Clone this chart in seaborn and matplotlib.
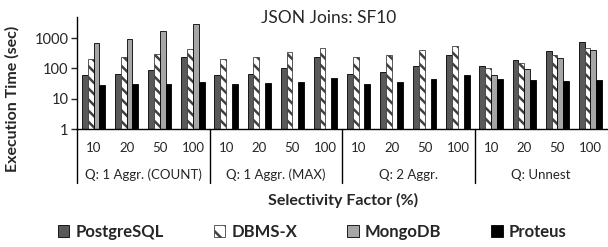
import numpy as np
import pandas as pd
import matplotlib
matplotlib.use("Agg")
import matplotlib.pyplot as plt
import matplotlib.transforms as mtransforms
from matplotlib.patches import Patch
import seaborn as sns

queries = ["Q: 1 Aggr. (COUNT)", "Q: 1 Aggr. (MAX)", "Q: 2 Aggr.", "Q: Unnest"]
selectivity = ["10", "20", "50", "100"]
systems = ["PostgreSQL", "DBMS-X", "MongoDB", "Proteus"]

postgres = [59, 67, 88, 230, 59, 68, 100, 240, 64, 76, 117, 288, 119, 187, 390, 730]
dbmsx = [204, 235, 310, 430, 208, 247, 352, 475, 230, 281, 410, 570, 105, 154, 280, 475]
mongodb = [690, 935, 1730, 2990, np.nan, np.nan, np.nan, np.nan,
           np.nan, np.nan, np.nan, np.nan, 60, 95, 224, 398]
proteus = [29, 30, 31.6, 35, 30, 32, 37, 47, 31.6, 35, 44, 59, 44.6, 41, 37.5, 41]

sns.set_style("white")
plt.rcParams['font.family'] = ['Lato', 'DejaVu Sans']
plt.rcParams['hatch.linewidth'] = 1.8
plt.rcParams['hatch.color'] = '#404040'

cats = [f"{q}|{s}" for q in queries for s in selectivity]
rows = []
for name, vals in zip(systems, [postgres, dbmsx, mongodb, proteus]):
    for c, v in zip(cats, vals):
        rows.append({"cat": c, "system": name, "time": v})
df = pd.DataFrame(rows)

W, H = 608, 247
fig = plt.figure(figsize=(W / 100, H / 100), dpi=100)
ax = fig.add_axes([77 / W, 1 - 129 / H, (607 - 77) / W, (129 - 17) / H])
ax.set_yscale("log")

colors = {"PostgreSQL": "#595959", "DBMS-X": "#ffffff", "MongoDB": "#a6a6a6", "Proteus": "#000000"}
sns.barplot(data=df, x="cat", y="time", hue="system", order=cats, hue_order=systems,
            palette=colors, width=0.7, edgecolor="black", linewidth=0.6,
            saturation=1, legend=False, ax=ax)

HATCH = "\\\\\\"
for bar_container, name in zip(ax.containers, systems):
    if name == "DBMS-X":
        for p in bar_container:
            p.set_hatch(HATCH)
            p.set_edgecolor("#404040")

ax.set_ylim(1, 5000)
ax.set_xlim(-0.5, len(cats) - 0.5)
ax.set_yticks([1, 10, 100, 1000])
ax.set_yticklabels(["1", "10", "100", "1000"], fontsize=10.5)
ax.minorticks_off()
ax.tick_params(axis="y", which="major", length=4, width=1, direction="out", pad=2, left=True)
ax.set_xticks(range(len(cats)))
ax.set_xticklabels(selectivity * len(queries), fontsize=9.5)
ax.tick_params(axis="x", length=0, pad=9)
for s in ["top", "right"]:
    ax.spines[s].set_visible(False)
for s in ["left", "bottom"]:
    ax.spines[s].set_color("black")
    ax.spines[s].set_linewidth(1.0)
ax.set_xlabel("")
ax.set_ylabel("")

trans = mtransforms.blended_transform_factory(ax.transData, ax.transAxes)
for xb in [-0.5, 3.5, 7.5, 11.5]:
    ax.plot([xb, xb], [0, -0.48], color="black", lw=1.0, transform=trans, clip_on=False)
for i, q in enumerate(queries):
    ax.text(i * 4 + 1.5, -0.41, q, transform=trans, ha="center", va="center", fontsize=9.5)

fig.text(343 / W, 1 - 200 / H, "Selectivity Factor (%)", ha="center", va="center",
         fontsize=11.5, fontweight="bold")
fig.text(12 / W, 1 - 99 / H, "Execution Time (sec)", ha="center", va="center",
         rotation=90, fontsize=11.5, fontweight="bold")
fig.text(329 / W, 1 - 18 / H, "JSON Joins: SF10", ha="center", va="center", fontsize=12.5)

handles = []
for name in systems:
    if name == "DBMS-X":
        handles.append(Patch(facecolor="white", edgecolor="#404040", hatch="\\\\", label=name, linewidth=0.6))
    else:
        handles.append(Patch(facecolor=colors[name], edgecolor="black", label=name, linewidth=0.6))
fig.legend(handles=handles, loc="center", bbox_to_anchor=(312 / W, 1 - 232 / H), ncol=4,
           frameon=False, prop={"weight": "bold", "size": 12}, handlelength=0.7,
           handleheight=0.7, handletextpad=0.35, columnspacing=3.0)

fig.savefig("out.png", dpi=100)
